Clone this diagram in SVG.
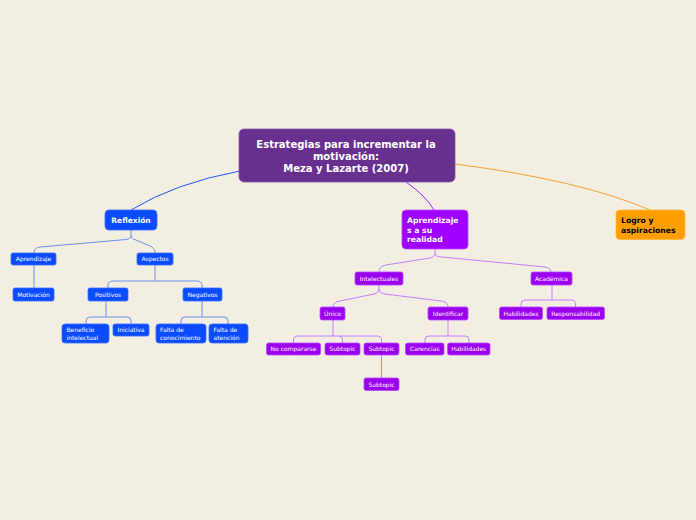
<svg xmlns="http://www.w3.org/2000/svg" width="696" height="520" viewBox="0 0 696 520">
<style>
.bg{fill:#f2efe2}
.b{fill:#0a4bff;stroke:#3a6cff;stroke-width:0.8}
.p{fill:#9b00ef;stroke:#b848ff;stroke-width:0.8}
.t{font-family:"DejaVu Sans",Verdana,sans-serif;font-size:6px;fill:#ffffff;text-anchor:middle}
.tb{font-family:"DejaVu Sans",Verdana,sans-serif;font-weight:bold;fill:#ffffff}
.cb{fill:none;stroke:#6d8ff0;stroke-width:1}
.cp{fill:none;stroke:#c77dff;stroke-width:1}
</style>
<rect class="bg" x="0" y="0" width="696" height="520"/>
<g id="connectors">
<path d="M240 171 Q175 183 131 210" fill="none" stroke="#1f55ff" stroke-width="1"/>
<path d="M406 182 Q426 196 434 210" fill="none" stroke="#a020ff" stroke-width="1"/>
<path d="M455 164 Q580 180 650 210" fill="none" stroke="#f7a032" stroke-width="1"/>
<path class="cb" d="M131 230 V235 Q131 239 126 239.5 L40 247 Q34 247.5 34 253"/>
<path class="cb" d="M131 235 Q131 239 136 240 L150 246 Q155 248 155 253"/>
<path class="cb" d="M34 265 V288"/>
<path class="cb" d="M155 265 V281 M114 281 H196 Q202 281 202 285 V288 M114 281 Q108 281 108 285 V288"/>
<path class="cb" d="M106 301 V317 M90 317 H127 Q131 317 131 321 V324 M90 317 Q86 317 86 321 V324"/>
<path class="cb" d="M202 301 V317 M185 317 H224 Q228 317 228 321 V324 M185 317 Q181 317 181 321 V324"/>
<path class="cp" d="M435 249 V253 Q435 257 430 258 L386 265 Q379 266 379 272"/>
<path class="cp" d="M435 253 Q435 257 442 257 L545 267 Q551 268 551 272"/>
<path class="cp" d="M379 285 V289 Q379 293 374 294 L340 301 Q333 302 333 307"/>
<path class="cp" d="M379 289 Q379 293 385 294 L441 301 Q448 302 448 307"/>
<path class="cp" d="M333 320 V336 M297 336 H377 Q381.5 336 381.5 340 V343 M297 336 Q293.5 336 293.5 340 V343 M339 336 Q342.5 336 342.5 340 V343"/>
<path class="cp" d="M381.5 355 V378"/>
<path class="cp" d="M448 320 V336 M429 336 H465 Q469 336 469 340 V343 M429 336 Q425 336 425 340 V343"/>
<path class="cp" d="M552 285 V300 M525 300 H571 Q575.5 300 575.5 304 V307 M525 300 Q521 300 521 304 V307"/>
</g>
<g id="central">
<rect x="239" y="129" width="216" height="53" rx="5" fill="#67308f" stroke="#8a55b0" stroke-width="0.8"/>
<text class="tb" font-size="10" text-anchor="middle"><tspan x="346" y="148">Estrategias para incrementar la</tspan><tspan x="346" y="160">motivación:</tspan><tspan x="346" y="172">Meza y Lazarte (2007)</tspan></text>
</g>
<g id="reflexion">
<rect class="b" x="105" y="210" width="52" height="20" rx="4"/>
<text class="tb" font-size="7.5" x="131" y="222.7" text-anchor="middle">Reflexión</text>
</g>
<g id="aprendizaje"><rect class="b" x="11" y="253" width="45" height="12" rx="2"/><text class="t" x="33.5" y="261.2">Aprendizaje</text></g>
<g id="aspectos"><rect class="b" x="137" y="253" width="36" height="12" rx="2"/><text class="t" x="155" y="261.2">Aspectos</text></g>
<g id="motivacion"><rect class="b" x="13" y="288" width="41" height="13" rx="2"/><text class="t" x="33.5" y="296.7">Motivación</text></g>
<g id="positivos"><rect class="b" x="88" y="288" width="40" height="13" rx="2"/><text class="t" x="108" y="296.7">Positivos</text></g>
<g id="negativos"><rect class="b" x="183" y="288" width="39" height="13" rx="2"/><text class="t" x="202.5" y="296.7">Negativos</text></g>
<g id="beneficio"><rect class="b" x="62" y="324" width="47" height="19" rx="3"/><text class="t" style="text-anchor:start"><tspan x="66.5" y="332">Beneficio</tspan><tspan x="66.5" y="339.5">intelectual</tspan></text></g>
<g id="iniciativa"><rect class="b" x="113" y="324" width="36" height="12" rx="2"/><text class="t" x="131" y="332.2">Iniciativa</text></g>
<g id="falta-conocimiento"><rect class="b" x="156" y="324" width="50" height="19" rx="3"/><text class="t" style="text-anchor:start"><tspan x="160" y="332">Falta de</tspan><tspan x="160" y="339.5">conocimiento</tspan></text></g>
<g id="falta-atencion"><rect class="b" x="209" y="324" width="39" height="19" rx="3"/><text class="t" style="text-anchor:start"><tspan x="213.5" y="332">Falta de</tspan><tspan x="213.5" y="339.5">atención</tspan></text></g>
<g id="aprendizajes">
<rect x="402" y="210" width="66" height="39" rx="4" fill="#a000ff" stroke="#b848ff" stroke-width="0.8"/>
<text class="tb" font-size="7.7"><tspan x="407" y="222.8">Aprendizaje</tspan><tspan x="407" y="232.6">s a su</tspan><tspan x="407" y="242.3">realidad</tspan></text>
</g>
<g id="logro">
<rect x="616" y="210" width="69" height="29.5" rx="4" fill="#ff9e00" stroke="#ffb640" stroke-width="0.8"/>
<text font-family="DejaVu Sans, Verdana, sans-serif" font-weight="bold" font-size="7.7" fill="#000000"><tspan x="621" y="222.8">Logro y</tspan><tspan x="621" y="232.8">aspiraciones</tspan></text>
</g>
<g id="intelectuales"><rect class="p" x="355" y="272" width="48" height="13" rx="2"/><text class="t" x="379" y="280.7">Intelectuales</text></g>
<g id="academica"><rect class="p" x="531" y="272" width="41" height="13" rx="2"/><text class="t" x="551.5" y="280.7">Académica</text></g>
<g id="unico"><rect class="p" x="320" y="307" width="25" height="13" rx="2"/><text class="t" x="332.5" y="315.7">Único</text></g>
<g id="identificar"><rect class="p" x="428" y="307" width="40" height="13" rx="2"/><text class="t" x="448" y="315.7">Identificar</text></g>
<g id="habilidades-a"><rect class="p" x="499.5" y="307" width="43" height="12.5" rx="2"/><text class="t" x="521" y="315.5">Habilidades</text></g>
<g id="responsabilidad"><rect class="p" x="547" y="307" width="57.5" height="12.5" rx="2"/><text class="t" x="575.7" y="315.5">Responsabilidad</text></g>
<g id="no-compararse"><rect class="p" x="266.5" y="343" width="54" height="12" rx="2"/><text class="t" x="293.5" y="351.2">No compararse</text></g>
<g id="subtopic1"><rect class="p" x="325" y="343" width="35" height="12" rx="2"/><text class="t" x="342.5" y="351.2">Subtopic</text></g>
<g id="subtopic2"><rect class="p" x="364" y="343" width="35" height="12" rx="2"/><text class="t" x="381.5" y="351.2">Subtopic</text></g>
<g id="subtopic3"><rect class="p" x="364" y="378" width="35" height="12.5" rx="2"/><text class="t" x="381.5" y="386.5">Subtopic</text></g>
<g id="carencias"><rect class="p" x="405.5" y="343" width="38.5" height="12" rx="2"/><text class="t" x="424.8" y="351.2">Carencias</text></g>
<g id="habilidades-i"><rect class="p" x="447.5" y="343" width="42.5" height="12" rx="2"/><text class="t" x="468.7" y="351.2">Habilidades</text></g>
</svg>
